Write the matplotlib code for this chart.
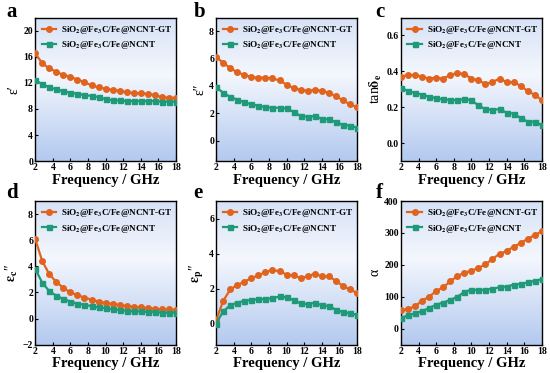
import numpy as np
import matplotlib
matplotlib.use("Agg")
import matplotlib.pyplot as plt
from matplotlib.colors import LinearSegmentedColormap

plt.rcParams["font.family"] = ["Liberation Serif", "DejaVu Serif"]
plt.rcParams["font.weight"] = "bold"
plt.rcParams["mathtext.fontset"] = "stix"

# Frequency points (GHz)
freq = [2.0, 2.8, 3.6, 4.4, 5.2, 6.0, 6.8, 7.6, 8.4, 9.2, 10.0,
        10.8, 11.6, 12.4, 13.2, 14.0, 14.8, 15.6, 16.4, 17.2, 18.0]

labels = ["SiO$_\\mathbf{2}$@Fe$_\\mathbf{3}$C/Fe@NCNT-GT",
          "SiO$_\\mathbf{2}$@Fe$_\\mathbf{3}$C/Fe@NCNT"]

# a: real permittivity
eps_r_gt = [16.5, 15.0, 14.2, 13.7, 13.2, 12.9, 12.5, 12.1, 11.6, 11.3, 11.1,
            10.9, 10.8, 10.6, 10.4, 10.4, 10.3, 10.1, 9.8, 9.7, 9.7]
eps_r_n = [12.4, 11.8, 11.3, 11.0, 10.7, 10.5, 10.3, 10.1, 10.0, 9.8, 9.5,
           9.3, 9.3, 9.2, 9.2, 9.2, 9.2, 9.2, 9.1, 9.1, 9.1]

# b: imaginary permittivity
eps_i_gt = [6.1, 5.7, 5.3, 5.0, 4.8, 4.65, 4.6, 4.6, 4.55, 4.4, 4.1,
            3.85, 3.7, 3.65, 3.7, 3.65, 3.5, 3.25, 2.95, 2.65, 2.45]
eps_i_n = [3.9, 3.5, 3.2, 3.0, 2.8, 2.65, 2.55, 2.45, 2.4, 2.4, 2.35,
           2.1, 1.8, 1.75, 1.8, 1.6, 1.55, 1.35, 1.15, 1.1, 0.95]

# c: dielectric loss tangent
tan_gt = [0.37, 0.38, 0.38, 0.37, 0.36, 0.365, 0.36, 0.38, 0.39, 0.385, 0.36,
          0.35, 0.33, 0.34, 0.36, 0.34, 0.34, 0.32, 0.29, 0.27, 0.24]
tan_n = [0.31, 0.29, 0.28, 0.27, 0.26, 0.25, 0.245, 0.24, 0.24, 0.245, 0.24,
         0.21, 0.19, 0.185, 0.19, 0.17, 0.165, 0.14, 0.12, 0.12, 0.10]

# d: conduction loss
epc_gt = [6.1, 4.4, 3.4, 2.8, 2.35, 2.0, 1.8, 1.6, 1.45, 1.3, 1.2,
          1.1, 1.05, 0.95, 0.9, 0.85, 0.8, 0.75, 0.7, 0.7, 0.65]
epc_n = [3.8, 2.75, 2.1, 1.75, 1.5, 1.3, 1.15, 1.05, 0.95, 0.85, 0.8,
         0.7, 0.65, 0.6, 0.55, 0.55, 0.5, 0.5, 0.45, 0.45, 0.45]

# e: polarization loss
epp_gt = [0.2, 1.3, 1.95, 2.2, 2.4, 2.6, 2.75, 2.95, 3.05, 3.0, 2.8,
          2.75, 2.6, 2.7, 2.85, 2.7, 2.7, 2.45, 2.15, 1.95, 1.75]
epp_n = [0.0, 0.7, 1.05, 1.2, 1.3, 1.35, 1.4, 1.4, 1.45, 1.55, 1.5,
         1.35, 1.15, 1.1, 1.2, 1.05, 1.0, 0.8, 0.65, 0.6, 0.5]

# f: attenuation constant
alpha_gt = [58, 62, 70, 88, 100, 118, 130, 148, 165, 175, 182,
            190, 202, 218, 235, 243, 257, 268, 282, 293, 305]
alpha_n = [33, 42, 48, 55, 65, 75, 82, 90, 100, 115, 122,
           120, 122, 125, 130, 132, 138, 140, 145, 150, 155]

panels = [
    ("a", eps_r_gt, eps_r_n, "ε′", (0, 22), [0, 4, 8, 12, 16, 20]),
    ("b", eps_i_gt, eps_i_n, "ε″", (-1.5, 9), [0, 2, 4, 6, 8]),
    ("c", tan_gt, tan_n, r"tan$\mathbf{\delta}_\mathbf{e}$", (-0.1, 0.7), [0.0, 0.2, 0.4, 0.6]),
    ("d", epc_gt, epc_n, r"$\mathbf{\varepsilon_c}$″", (-2, 9), [-2, 0, 2, 4, 6, 8]),
    ("e", epp_gt, epp_n, r"$\mathbf{\varepsilon_p}$″", (-1.2, 7), [0, 2, 4, 6]),
    ("f", alpha_gt, alpha_n, "α", (-50, 400), [0, 100, 200, 300, 400]),
]

orange = "#e0641e"
green = "#1e9a78"

bg = LinearSegmentedColormap.from_list(
    "bg", [(0.0, "#b3c9ef"), (0.6, "#f4f7fd"), (1.0, "#d6e2f6")])
grad = np.linspace(0, 1, 256).reshape(-1, 1)

fig = plt.figure(figsize=(5.5, 3.73), dpi=100)
lefts = [0.064, 0.393, 0.729]
bottoms = [0.568, 0.076]
letter_x = [0.012, 0.352, 0.683]
letter_y = [0.995, 0.51]
w, h = 0.256, 0.385

for i, (letter, gt, n, ylab, ylim, yticks) in enumerate(panels):
    r, c = divmod(i, 3)
    ax = fig.add_axes([lefts[c], bottoms[r], w, h])
    ax.imshow(grad, extent=[0, 1, 0, 1], transform=ax.transAxes,
              cmap=bg, aspect="auto", origin="lower", zorder=0)
    ax.plot(freq, gt, "-o", color=orange, ms=4, lw=1.6, label=labels[0], zorder=3)
    ax.plot(freq, n, "-s", color=green, ms=3.6, lw=1.6, label=labels[1], zorder=3)
    ax.set_xlim(2, 18)
    ax.set_ylim(*ylim)
    ax.set_xticks(range(2, 19, 2))
    ax.set_yticks(yticks)
    ax.tick_params(direction="in", labelsize=7, length=2.5, width=0.8, pad=1.5)
    for lab in ax.get_xticklabels() + ax.get_yticklabels():
        lab.set_fontweight("bold")
    for sp in ax.spines.values():
        sp.set_linewidth(1.0)
    ax.set_xlabel("Frequency / GHz", fontsize=10.5, fontweight="bold", labelpad=1)
    ax.set_ylabel(ylab, fontsize=10, fontweight="normal", labelpad=2)
    ax.legend(loc="upper left", frameon=False, handlelength=1.6,
              borderaxespad=0.3, labelspacing=0.35, handletextpad=0.5,
              prop={"weight": "bold", "size": 6.6})
    fig.text(letter_x[c], letter_y[r], letter,
             fontsize=15, fontweight="bold", va="top", ha="left")

fig.savefig("out.png", dpi=100)
